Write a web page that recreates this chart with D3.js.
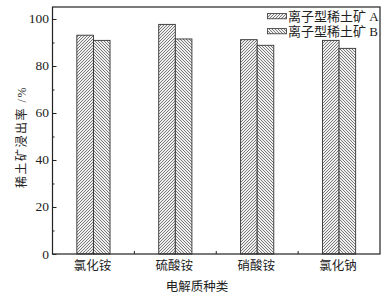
<!DOCTYPE html>
<html>
<head>
<meta charset="utf-8">
<script src="https://cdnjs.cloudflare.com/ajax/libs/d3/7.8.5/d3.min.js"></script>
<style>
body { margin: 0; background: #fff; }
svg text { font-family: "Liberation Serif", "Noto Sans CJK SC", serif; fill: #222; }
</style>
</head>
<body>
<svg id="chart" width="391" height="295"></svg>
<script>
var categories = ["氯化铵", "硫酸铵", "硝酸铵", "氯化钠"];
var seriesNames = ["离子型稀土矿 A", "离子型稀土矿 B"];
var valuesA = [93.1, 97.7, 91.2, 90.9];
var valuesB = [90.9, 91.5, 88.8, 87.5];
var yTicks = [0, 20, 40, 60, 80, 100];

var svg = d3.select("#chart");
var m = {left: 52.5, right: 380, top: 7, bottom: 254};

var x = d3.scaleBand().domain(categories).range([m.left, m.right]).padding(0);
var y = d3.scaleLinear().domain([0, 105.1]).range([m.bottom, m.top]);

// hatch patterns
var defs = svg.append("defs");
function hatch(id, dir) {
	var p = defs.append("pattern").attr("id", id).attr("patternUnits", "userSpaceOnUse")
		.attr("width", 3).attr("height", 3);
	p.append("rect").attr("width", 3).attr("height", 3).attr("fill", "#f0f0f0");
	if (dir > 0) {
		p.append("path").attr("d", "M-1,1 L1,-1 M0,3 L3,0 M2,4 L4,2");
	} else {
		p.append("path").attr("d", "M-1,2 L1,4 M0,0 L3,3 M2,-1 L4,1");
	}
	p.select("path").attr("stroke", "#5a5a5a").attr("stroke-width", 0.8);
}
hatch("hA", 1);
hatch("hB", -1);

var bw = 16.6;
var groups = svg.append("g");
categories.forEach(function (c, i) {
	var cx = x(c) + x.bandwidth() / 2;
	[valuesA[i], valuesB[i]].forEach(function (v, k) {
		groups.append("rect")
			.attr("x", cx - bw + k * bw)
			.attr("y", y(v))
			.attr("width", bw)
			.attr("height", y(0) - y(v))
			.attr("fill", k == 0 ? "url(#hA)" : "url(#hB)")
			.attr("stroke", "#333").attr("stroke-width", 0.9);
	});
});

// frame
svg.append("rect").attr("x", m.left).attr("y", m.top)
	.attr("width", m.right - m.left).attr("height", m.bottom - m.top)
	.attr("fill", "none").attr("stroke", "#222").attr("stroke-width", 1.2);

// y axis, ticks inward
var yAxis = d3.axisRight(y).tickValues(yTicks).tickSize(4).tickFormat("");
var gy = svg.append("g").attr("transform", "translate(" + m.left + ",0)").call(yAxis);
gy.select(".domain").remove();
var yMinor = d3.axisRight(y).tickValues([10, 30, 50, 70, 90]).tickSize(2).tickFormat("");
var gy2 = svg.append("g").attr("transform", "translate(" + m.left + ",0)").call(yMinor);
gy2.select(".domain").remove();
svg.selectAll(".tick line").attr("stroke", "#222");

svg.append("g").selectAll("text").data(yTicks).enter().append("text")
	.attr("x", m.left - 3.5).attr("y", function (d) { return y(d) + 4.5; })
	.attr("text-anchor", "end").attr("font-size", 13.5)
	.text(function (d) { return d; });

// x axis ticks (between groups, inward)
var xMinor = categories.slice(1).map(function (c) { return x(c); });
svg.append("g").selectAll("line").data(xMinor).enter().append("line")
	.attr("x1", function (d) { return d; }).attr("x2", function (d) { return d; })
	.attr("y1", m.bottom).attr("y2", m.bottom - 3)
	.attr("stroke", "#222");

svg.append("g").selectAll("text").data(categories).enter().append("text")
	.attr("x", function (d) { return x(d) + x.bandwidth() / 2 - 1; })
	.attr("y", 270)
	.attr("text-anchor", "middle").attr("font-size", 12.5)
	.text(function (d) { return d; });

svg.append("text").attr("x", 197).attr("y", 291)
	.attr("text-anchor", "middle").attr("font-size", 12.5)
	.text("电解质种类");

svg.append("text")
	.attr("transform", "translate(26,137) rotate(-90)")
	.attr("text-anchor", "middle").attr("font-size", 12)
	.attr("letter-spacing", 1.5)
	.text("稀土矿浸出率 /%");

// legend
var leg = svg.append("g");
seriesNames.forEach(function (s, i) {
	var ly = 16.2 + i * 15;
	leg.append("rect").attr("x", 267.5).attr("y", ly - 2.6)
		.attr("width", 19).attr("height", 5.2)
		.attr("fill", i == 0 ? "url(#hA)" : "url(#hB)")
		.attr("stroke", "#333").attr("stroke-width", 0.8);
	leg.append("text").attr("x", 288).attr("y", ly + 4.5)
		.attr("font-size", 13).text(s);
});
</script>
</body>
</html>
